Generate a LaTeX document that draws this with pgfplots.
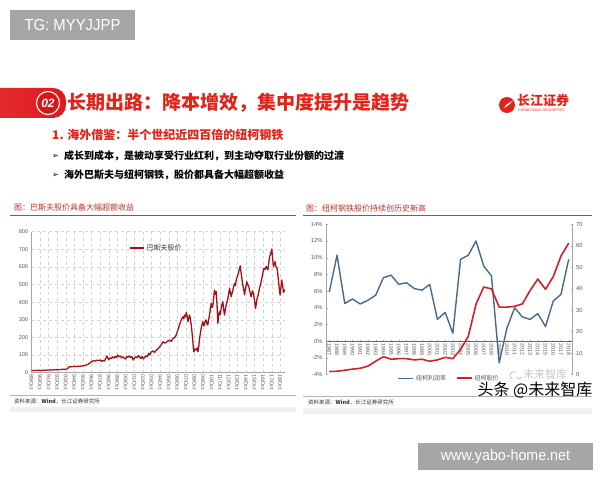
\documentclass[border=0pt]{standalone}
\usepackage{pgfplots}
\pgfplotsset{compat=1.18}
\usepackage{fontspec}
\setmainfont{Liberation Sans}
\newfontfamily\cjk{Noto Sans CJK SC}
\newfontfamily\dejavu{DejaVu Sans}
\newcommand{\fs}[1]{\fontsize{#1bp}{#1bp}\selectfont}
\definecolor{boxgray}{HTML}{A6A6A6}
\definecolor{bannerred}{HTML}{E0191E}
\definecolor{titlered}{HTML}{E2231A}
\definecolor{chartred}{HTML}{B8322F}
\definecolor{basf}{HTML}{A3121C}
\definecolor{nblue}{HTML}{48698C}
\definecolor{nred}{HTML}{D1202A}
\definecolor{ticktext}{HTML}{595959}
\pgfplotsset{/pgf/number format/assume math mode=true}
\begin{document}
\begin{tikzpicture}
\path[use as bounding box] (0,0) rectangle (600bp,480bp);
\begin{scope}[x=1bp,y=1bp]
\fill[white] (0,0) rectangle (600,480);
% top-left watermark box
\fill[boxgray] (10,440) rectangle (135,470);
\node[white, font=\fs{16}, xscale=0.93] at (72.5,455) {TG: MYYJJPP};
% bottom-right watermark box
\fill[boxgray] (418,10) rectangle (593,37);
\node[white, font=\fs{15}, xscale=0.95] at (505.5,23.5) {www.yabo-home.net};
% banner
\shade[left color=bannerred!90!white, right color=bannerred, rounded corners=13] (-20,362) rectangle (66,392);
\fill[bannerred!95!black] (48,377) circle (12);
\draw[white, line width=1.1] (48,377) circle (11.5);
\node[white, font=\fs{12}\bfseries\itshape] at (48,377) {02};
\node[anchor=west, titlered, font=\cjk\fs{19}\bfseries, inner sep=0] at (67,377) {长期出路：降本增效，集中度提升是趋势};
% logo
\fill[titlered] (507,375) circle (8);
\fill[white] (504,372) .. controls (507,378) and (510,376) .. (513,380) .. controls (509,374) and (507,374) .. (504,372);
\node[anchor=west, titlered, font=\cjk\fs{13}\bfseries, inner sep=0] at (517,380) {长江证券};
\node[anchor=west, titlered, font=\fs{3.6}, inner sep=0] at (518,370) {CHANGJIANG SECURITIES};
% subtitle and bullets
\node[anchor=west, titlered, font=\cjk\fs{12}\bfseries, inner sep=0] at (52,345) {1. 海外借鉴：半个世纪近四百倍的纽柯钢铁};
\node[anchor=west, black, font=\dejavu\fs{8}, inner sep=0] at (52,324) {➢};
\node[anchor=west, black, font=\cjk\fs{10}\bfseries, inner sep=0] at (64,324) {成长到成本，是被动享受行业红利，到主动夺取行业份额的过渡};
\node[anchor=west, black, font=\dejavu\fs{8}, inner sep=0] at (52,305) {➢};
\node[anchor=west, black, font=\cjk\fs{10}\bfseries, inner sep=0] at (64,305) {海外巴斯夫与纽柯钢铁，股价都具备大幅超额收益};
% left panel decorations
\node[anchor=west, chartred, font=\cjk\fs{8}, inner sep=0] at (14,272) {图：巴斯夫股价具备大幅超额收益};
\draw[gray!80!black, line width=0.7] (10,264.5) -- (296,264.5);
\draw[gray!60, line width=0.6] (10,84.5) -- (296,84.5);
\node[anchor=west, black!80, font=\cjk\fs{5.5}, inner sep=0] at (14,79) {资料来源：\textbf{Wind}，长江证券研究所};
\fill[gray!12] (10,68) rectangle (296,73);
% right panel decorations
\node[anchor=west, chartred, font=\cjk\fs{8}, inner sep=0] at (306,272) {图：纽柯钢铁股价持续创历史新高};
\draw[gray!80!black, line width=0.7] (303,264.5) -- (592,264.5);
\draw[gray!60, line width=0.6] (303,84) -- (592,84);
\node[anchor=west, black!80, font=\cjk\fs{5.5}, inner sep=0] at (308,78) {资料来源：\textbf{Wind}，长江证券研究所};
\fill[gray!12] (303,66) rectangle (592,72);
\end{scope}

% ---------------- left chart ----------------
\begin{axis}[
  at={(31.5bp,107.3bp)}, anchor=south west,
  scale only axis, width=253.5bp, height=141bp,
  xmin=1989.75, xmax=2019.3, ymin=0, ymax=800,
  axis x line*=bottom, axis y line*=left,
  axis line style={gray!70, line width=0.5},
  ytick={0,100,...,800},
  xtick={1989.75,1990.75,1991.75,1992.75,1993.75,1994.75,1995.75,1996.75,1997.75,1998.75,1999.75,2000.75,2001.75,2002.75,2003.75,2004.75,2005.75,2006.75,2007.75,2008.75,2009.75,2010.75,2011.75,2012.75,2013.75,2014.75,2015.75,2016.75,2017.75,2018.75},
  xticklabels={89/Oct,90/Oct,91/Oct,92/Oct,93/Oct,94/Oct,95/Oct,96/Oct,97/Oct,98/Oct,99/Oct,00/Oct,01/Oct,02/Oct,03/Oct,04/Oct,05/Oct,06/Oct,07/Oct,08/Oct,09/Oct,10/Oct,11/Oct,12/Oct,13/Oct,14/Oct,15/Oct,16/Oct,17/Oct,18/Oct},
  xticklabel style={rotate=-90, anchor=west, font=\fs{5.3}, text=ticktext, inner sep=1.5bp},
  yticklabel style={font=\fs{5.5}, text=ticktext},
  major tick length=0bp,
  grid=major, major grid style={gray!35, dashed, line width=0.4},
  legend style={at={(0.385,0.884)}, anchor=west, draw=none, fill=none, font=\cjk\fs{7}, text=black!75, inner sep=0bp},
  legend image code/.code={\draw[#1] (0bp,0bp) -- (14bp,0bp);},
]
\addplot[basf, line width=1.3, line join=round] coordinates {
(1989.75,13)(1989.95,12)(1990.15,13)(1990.35,12)(1990.55,14)(1990.75,13)(1990.95,13)(1991.15,14)(1991.35,13)(1991.55,15)
(1991.75,15)(1991.95,16)(1992.15,15)(1992.35,17)(1992.55,17)(1992.75,18)(1992.95,17)(1993.15,18)(1993.35,19)(1993.55,19)
(1993.75,20)(1993.95,22)(1994.05,30)(1994.15,34)(1994.35,33)(1994.55,35)(1994.75,36)(1994.95,35)(1995.15,37)(1995.35,36)
(1995.55,38)(1995.75,39)(1995.95,40)(1996.15,44)(1996.35,48)(1996.55,55)(1996.75,62)(1996.95,68)(1997.15,66)(1997.35,71)
(1997.55,69)(1997.75,72)(1997.95,64)(1998.1,70)(1998.25,66)(1998.4,80)(1998.55,95)(1998.65,82)(1998.75,74)(1998.9,84)
(1999.05,80)(1999.2,90)(1999.35,83)(1999.5,92)(1999.65,86)(1999.8,100)(1999.95,90)(2000.1,95)(2000.25,84)(2000.4,90)
(2000.55,82)(2000.7,78)(2000.85,92)(2001.0,88)(2001.15,95)(2001.3,86)(2001.45,92)(2001.6,72)(2001.75,84)(2001.9,90)
(2002.05,85)(2002.2,98)(2002.35,88)(2002.5,80)(2002.65,92)(2002.8,78)(2002.95,88)(2003.1,96)(2003.25,90)(2003.4,110)
(2003.52,100)(2003.7,118)(2003.9,123)(2004.1,115)(2004.3,129)(2004.5,135)(2004.7,148)(2004.9,160)(2005.07,176)(2005.25,168)
(2005.46,172)(2005.65,180)(2005.85,185)(2006.05,178)(2006.24,195)(2006.45,200)(2006.62,214)(2006.8,240)(2007.0,271)(2007.2,300)
(2007.4,318)(2007.5,305)(2007.6,327)(2007.7,318)(2007.8,342)(2007.9,320)(2007.98,290)(2008.08,310)(2008.17,327)(2008.27,305)
(2008.37,271)(2008.47,225)(2008.56,176)(2008.62,140)(2008.68,119)(2008.8,135)(2008.95,129)(2009.05,140)(2009.15,119)(2009.25,150)
(2009.34,195)(2009.44,225)(2009.53,252)(2009.63,275)(2009.73,290)(2009.83,265)(2009.92,271)(2010.0,295)(2010.1,299)(2010.2,280)
(2010.3,271)(2010.4,300)(2010.5,327)(2010.6,365)(2010.7,394)(2010.8,370)(2010.9,384)(2011.0,430)(2011.08,469)(2011.18,445)
(2011.28,460)(2011.38,380)(2011.47,280)(2011.56,320)(2011.66,346)(2011.76,330)(2011.86,365)(2011.96,390)(2012.05,403)(2012.15,360)
(2012.25,327)(2012.35,360)(2012.44,384)(2012.54,400)(2012.64,422)(2012.74,450)(2012.83,479)(2012.93,455)(2013.03,431)(2013.12,450)
(2013.22,469)(2013.32,490)(2013.42,507)(2013.52,495)(2013.61,526)(2013.7,540)(2013.8,554)(2013.95,580)(2014.08,607)(2014.2,560)
(2014.3,526)(2014.4,490)(2014.5,470)(2014.58,441)(2014.7,480)(2014.85,516)(2014.95,500)(2015.08,488)(2015.2,460)(2015.35,431)
(2015.5,465)(2015.62,450)(2015.75,410)(2015.86,365)(2015.95,390)(2016.05,422)(2016.2,445)(2016.32,479)(2016.45,500)(2016.6,535)
(2016.7,560)(2016.83,592)(2016.95,585)(2017.1,602)(2017.2,595)(2017.3,583)(2017.4,620)(2017.5,658)(2017.6,670)(2017.7,690)
(2017.76,702)(2017.85,650)(2017.96,602)(2018.05,615)(2018.15,630)(2018.25,600)(2018.38,592)(2018.48,550)(2018.57,507)(2018.65,470)
(2018.73,441)(2018.82,480)(2018.92,526)(2019.0,500)(2019.04,488)(2019.12,455)(2019.23,469)(2019.3,462)
};
\addlegendentry{巴斯夫股价}
\end{axis}

% ---------------- right chart: left axis (profit margin) ----------------
\begin{axis}[
  at={(326bp,105.5bp)}, anchor=south west,
  scale only axis, width=246.7bp, height=150.2bp,
  xmin=1986.57, xmax=2018.52, ymin=-4, ymax=14,
  axis y line*=left, axis x line=middle,
  axis line style={gray!70, line width=0.5, -},
  x axis line style={gray!80!black},
  ytick={-4,-2,...,14},
  yticklabel={\pgfmathprintnumber{\tick}\%},
  xtick={1987,1988,...,2018},
  /pgf/number format/1000 sep={},
  xticklabel style={rotate=-90, anchor=west, font=\fs{5.3}, text=ticktext, inner sep=1.5bp},
  yticklabel style={font=\fs{5.8}, text=ticktext},
  major tick length=2bp, tick style={gray!70},
]
\addplot[nblue, line width=1.4, line join=round] coordinates {
(1987,5.9)(1988,10.3)(1989,4.5)(1990,5.05)(1991,4.45)(1992,4.9)(1993,5.5)(1994,7.6)(1995,7.9)(1996,6.8)
(1997,7.0)(1998,6.3)(1999,6.1)(2000,6.8)(2001,2.6)(2002,3.45)(2003,0.95)(2004,9.8)(2005,10.3)(2006,12.0)
(2007,9.0)(2008,7.8)(2009,-2.6)(2010,1.55)(2011,4.0)(2012,2.9)(2013,2.6)(2014,3.3)(2015,1.75)(2016,4.8)
(2017,5.6)(2018,9.8)
};
\end{axis}

% ---------------- right chart: right axis (stock price) ----------------
\begin{axis}[
  at={(326bp,105.5bp)}, anchor=south west,
  scale only axis, width=246.7bp, height=150.2bp,
  xmin=1986.57, xmax=2018.52, ymin=0, ymax=70,
  axis y line*=right, axis x line=none,
  axis line style={gray!70, line width=0.5, -},
  ytick={0,10,...,70},
  yticklabel style={font=\fs{5.8}, text=ticktext},
  major tick length=2bp, tick style={gray!70},
  legend style={at={(0.29,-0.025)}, anchor=west, draw=none, fill=none, font=\cjk\fs{6}, text=black!65, legend columns=2, inner sep=0bp,
    /tikz/every even column/.append style={column sep=8bp}},
  legend image code/.code={\draw[#1] (0bp,0bp) -- (15bp,0bp);},
]
\addlegendimage{nblue, line width=1.4}
\addlegendentry{纽柯利润率}
\addplot[nred, line width=1.6, line join=round] coordinates {
(1987,1.4)(1988,1.5)(1989,2.0)(1990,2.5)(1991,2.9)(1992,3.9)(1993,6.2)(1994,8.3)(1995,7.1)(1996,7.4)
(1997,7.4)(1998,6.8)(1999,7.1)(2000,6.2)(2001,6.8)(2002,8.0)(2003,7.4)(2004,11.7)(2005,17.8)(2006,32.8)
(2007,40.8)(2008,39.9)(2009,31.4)(2010,31.4)(2011,31.8)(2012,32.9)(2013,39.1)(2014,44.5)(2015,39.7)(2016,45.6)
(2017,55.2)(2018,61.2)
};
\addlegendentry{纽柯股价}
\end{axis}

% watermark over the right chart
\begin{scope}[x=1bp,y=1bp]
\draw[gray!45, line width=0.8] (516,108) arc[start angle=60, end angle=250, radius=4];
\draw[gray!45, line width=0.8] (517,103) arc[start angle=200, end angle=340, radius=2.5];
\node[gray!45, font=\cjk\fs{11}, inner sep=0] at (545,106) {未来智库};
\node[black, font=\cjk\fs{16}, inner sep=0] at (535,90) {头条 @未来智库};
\end{scope}
\end{tikzpicture}
\end{document}
